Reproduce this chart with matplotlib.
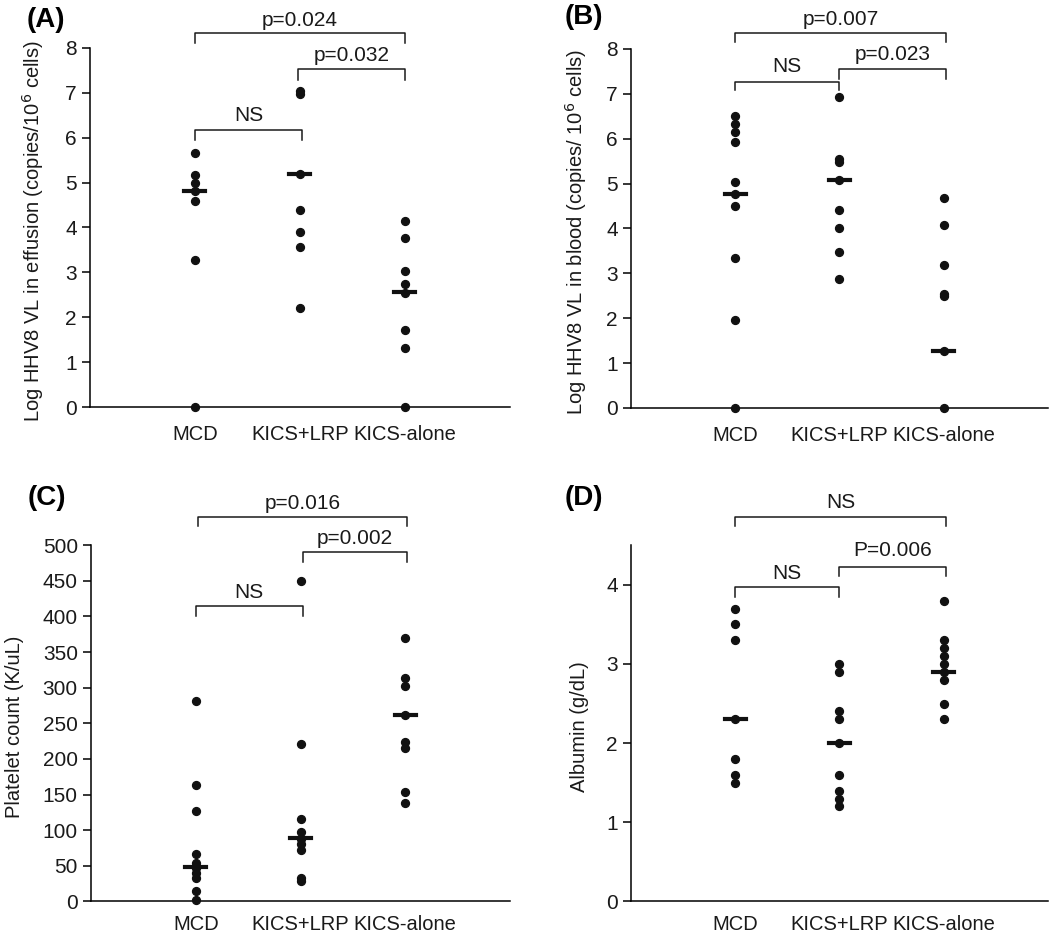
import matplotlib.pyplot as plt

plt.rcParams['font.family'] = ['Liberation Sans', 'DejaVu Sans']

groups = ['MCD', 'KICS+LRP', 'KICS-alone']

# (A) effusion viral load
a_mcd = [5.67, 5.18, 4.99, 4.82, 4.58, 3.27, 0]
a_lrp = [7.05, 6.98, 5.19, 4.40, 3.89, 3.56, 2.20]
a_alone = [4.14, 3.76, 3.03, 2.74, 2.53, 1.71, 1.32, 0]
a_median = [4.82, 5.19, 2.56]

# (B) blood viral load
b_mcd = [6.50, 6.33, 6.15, 5.92, 5.03, 4.77, 4.50, 3.35, 1.96, 0]
b_lrp = [6.92, 5.55, 5.47, 5.07, 4.42, 4.01, 3.47, 2.87]
b_alone = [4.68, 4.07, 3.18, 2.54, 2.50, 1.26, 0]
b_median = [4.76, 5.07, 1.26]

# (C) platelet count
c_mcd = [282, 163, 127, 67, 54, 47, 40, 33, 14, 2]
c_lrp = [450, 221, 116, 97, 88, 81, 72, 33, 29]
c_alone = [370, 313, 302, 262, 224, 216, 154, 138]
c_median = [48, 89, 262]

# (D) albumin
d_mcd = [3.7, 3.5, 3.3, 2.3, 1.8, 1.6, 1.5]
d_lrp = [3.0, 2.9, 2.4, 2.3, 2.0, 1.6, 1.4, 1.3, 1.2]
d_alone = [3.8, 3.3, 3.2, 3.1, 3.0, 2.9, 2.8, 2.5, 2.3]
d_median = [2.3, 2.0, 2.9]

txt = '#1a1a1a'

fig = plt.figure(figsize=(10.5, 9.4), dpi=100)
axA = fig.add_axes([0.0857, 0.567, 0.400, 0.382])
axB = fig.add_axes([0.601, 0.566, 0.397, 0.382])
axC = fig.add_axes([0.0867, 0.041, 0.399, 0.379])
axD = fig.add_axes([0.601, 0.041, 0.397, 0.379])


def bracket(ax, x1, x2, y, drop, label, ty):
    ax.plot([x1, x1, x2, x2], [y - drop, y, y, y - drop], color=txt, lw=1.1, clip_on=False)
    ax.text((x1 + x2) / 2, ty, label, ha='center', va='center', fontsize=15, color=txt)


def panel(ax, series, medians, ylim, yticks, ylabel, label_x, pad=13):
    for i, vals in enumerate(series):
        x = i + 1
        ax.scatter([x] * len(vals), vals, s=32, color='#111111', zorder=3, clip_on=False)
        ax.plot([x - 0.1, x + 0.1], [medians[i]] * 2, color='#111111', lw=3, zorder=4)
    ax.set_xlim(0, 4)
    ax.set_ylim(*ylim)
    ax.set_yticks(yticks)
    ax.set_xticks([1, 2, 3])
    ax.set_xticklabels(groups, fontsize=14.5, color=txt)
    ax.tick_params(axis='x', length=0, pad=pad)
    ax.tick_params(axis='y', length=6, width=1.1, labelsize=15, labelcolor=txt, direction='out')
    ax.spines['top'].set_visible(False)
    ax.spines['right'].set_visible(False)
    ax.spines['left'].set_linewidth(1.1)
    ax.spines['bottom'].set_linewidth(1.1)
    ax.set_ylabel(ylabel, fontsize=14.5, color=txt)
    ax.yaxis.set_label_coords(label_x, 0.49)


def tag(px, py, s):
    fig.text(px / 1050, 1 - py / 940, s, fontsize=20, fontweight='bold', ha='left', va='center')


panel(axA, [a_mcd, a_lrp, a_alone], a_median, (0, 8), range(0, 9),
      'Log HHV8 VL in effusion (copies/10$^6$ cells)', -0.105)
bracket(axA, 1, 3, 8.33, 0.23, 'p=0.024', 8.62)
bracket(axA, 1.98, 3, 7.52, 0.23, 'p=0.032', 7.84)
bracket(axA, 1, 2.02, 6.17, 0.22, 'NS', 6.5)
tag(27, 20, '(A)')

panel(axB, [b_mcd, b_lrp, b_alone], b_median, (0, 8), range(0, 9),
      'Log HHV8 VL in blood (copies/ 10$^6$ cells)', -0.10)
bracket(axB, 1, 3.02, 8.36, 0.21, 'p=0.007', 8.65)
bracket(axB, 2, 3.02, 7.56, 0.23, 'p=0.023', 7.87)
bracket(axB, 1, 2, 7.26, 0.18, 'NS', 7.61)
tag(565, 17, '(B)')

panel(axC, [c_mcd, c_lrp, c_alone], c_median, (0, 500), range(0, 501, 50),
      'Platelet count (K/uL)', -0.16, pad=10)
bracket(axC, 1.02, 3.02, 539, 12, 'p=0.016', 559)
bracket(axC, 2.02, 3.02, 490, 13, 'p=0.002', 510)
bracket(axC, 1, 2.02, 414, 14, 'NS', 434)
tag(28, 498, '(C)')

panel(axD, [d_mcd, d_lrp, d_alone], d_median, (0, 4.5), range(0, 5),
      'Albumin (g/dL)', -0.10, pad=10)
bracket(axD, 1, 3.02, 4.85, 0.11, 'NS', 5.04)
bracket(axD, 2, 3.02, 4.23, 0.12, 'P=0.006', 4.43)
bracket(axD, 1, 2, 3.97, 0.12, 'NS', 4.14)
tag(565, 498, '(D)')

fig.savefig('out.png', dpi=100)
